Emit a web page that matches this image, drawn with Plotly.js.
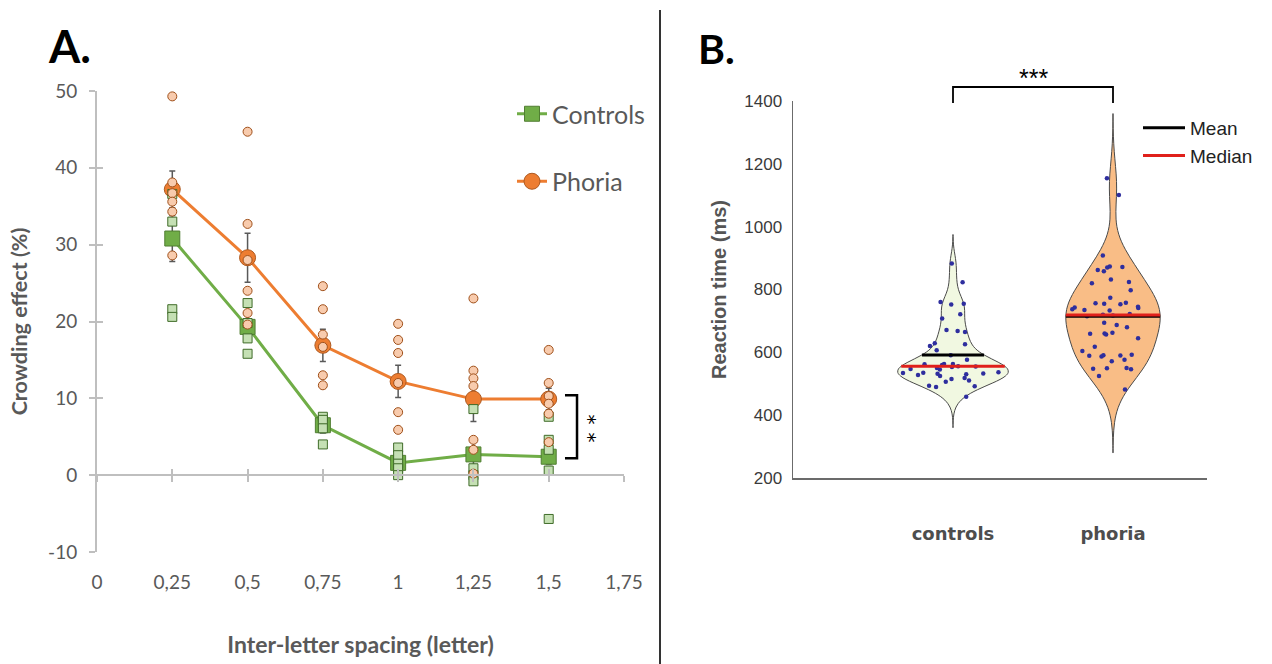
<!DOCTYPE html>
<html>
<head>
<meta charset="utf-8">
<script src="https://cdn.plot.ly/plotly-3.0.1.min.js"></script>
<style>html,body{margin:0;padding:0;background:#fff;}#chart{width:1272px;height:664px;}</style>
</head>
<body>
<div id="chart"></div>
<script>
// ---------- Panel A data ----------
const spacing = [0.25, 0.5, 0.75, 1, 1.25, 1.5];
const spacingTicks = [0, 0.25, 0.5, 0.75, 1, 1.25, 1.5, 1.75];
const spacingLabels = ['0', '0,25', '0,5', '0,75', '1', '1,25', '1,5', '1,75'];
const effectTicks = [-10, 0, 10, 20, 30, 40, 50];
const effectLabels = ['-10', '0', '10', '20', '30', '40', '50'];
const controlsMean = [30.8, 19.3, 6.5, 1.6, 2.7, 2.4];
const controlsErr = [3.0, 1.5, 1.0, 1.0, 1.8, 1.0];
const phoriaMean = [37.2, 28.3, 16.9, 12.2, 9.9, 9.9];
const phoriaErr = [2.4, 3.2, 2.1, 2.1, 2.9, 1.4];
const controlsIndiv = [
  [36.6, 33.0, 21.6, 20.6],
  [22.4, 19.8, 17.8, 15.8],
  [7.6, 7.2, 6.1, 4.0],
  [3.6, 2.6, 1.5, 0.9, 0.0],
  [8.6, 0.9, 0.0, -0.8],
  [7.6, 4.6, 3.3, 0.6, -5.7]
];
const phoriaIndiv = [
  [49.3, 38.1, 36.7, 35.6, 34.3, 28.6],
  [44.7, 32.7, 28.0, 24.0, 21.1, 19.6],
  [24.6, 21.6, 18.3, 16.7, 13.0, 11.7],
  [19.7, 17.6, 15.9, 12.0, 8.2, 5.9],
  [23.0, 13.6, 12.6, 11.6, 4.6, 3.3, 0.2],
  [16.3, 12.0, 10.3, 9.3, 8.0, 4.3]
];

// ---------- Panel B data ----------
const groups = ['controls', 'phoria'];
const rtTicks = [200, 400, 600, 800, 1000, 1200, 1400];
const controlsRT = [883, 823, 760, 755, 752, 721, 708, 671, 668, 665, 629, 626, 620, 607, 591, 576,
  563, 563, 562, 560, 556, 555, 553, 550, 547, 545, 537, 535, 534, 533, 532, 530, 528, 525,
  518, 515, 510, 506, 494, 492, 490, 459];
const phoriaRT = [1154, 1101, 908, 873, 872, 870, 862, 858, 832, 824, 820, 798, 774, 758, 756, 755,
  753, 745, 743, 741, 737, 735, 733, 722, 720, 717, 715, 694, 687, 680, 662, 660, 659, 657, 645,
  618, 604, 592, 591, 590, 589, 587, 576, 572, 550, 549, 548, 546, 525, 482];

// ---------- helpers ----------
function flatX(xs, sets) { const o = []; sets.forEach((s, i) => s.forEach(() => o.push(xs[i]))); return o; }
function flatY(sets) { return [].concat(...sets); }
function mean(a) { return a.reduce((s, v) => s + v, 0) / a.length; }
function median(a) { const s = a.slice().sort((p, q) => p - q); const n = s.length; return n % 2 ? s[(n - 1) / 2] : (s[n / 2 - 1] + s[n / 2]) / 2; }
function kde(data, bw, y) { let s = 0; for (const v of data) { const z = (y - v) / bw; s += Math.exp(-0.5 * z * z); } return s / (data.length * bw * Math.sqrt(2 * Math.PI)); }
function halfWidth(data, bw, span, width, y) {
  let mx = 0;
  for (let i = 0; i <= 300; i++) { const t = span[0] + (span[1] - span[0]) * i / 300; mx = Math.max(mx, kde(data, bw, t)); }
  return width / 2 * kde(data, bw, y) / mx;
}

// ---------- geometry (paper fractions, margins 0) ----------
const W = 1272, H = 664;
const aDomX = [97 / W, 624 / W], aDomY = [1 - 552 / H, 1 - 91 / H];
const aRangeY = [-10, 50];
const zeroPos = aDomY[0] + (0 - aRangeY[0]) / (aRangeY[1] - aRangeY[0]) * (aDomY[1] - aDomY[0]);
const bDomX = [793 / W, 1207 / W], bDomY = [1 - 478 / H, 1 - 101 / H];

const fontA = 'Lato, "Open Sans", sans-serif';
const fontB = '"Liberation Sans", Arial, sans-serif';
const greyA = '#595959';
const axA = '#BFBFBF';

// violin settings
const vio = [
  { data: controlsRT, pos: 0, bw: 33, span: [360, 975], width: 0.69, fill: '#F1F8E1' },
  { data: phoriaRT, pos: 1, bw: 72, span: [280, 1360], width: 0.59, fill: '#F9BD86' }
];

const traces = [];

// dummy traces to materialise overlay axes (cross ticks)
traces.push({ type: 'scatter', x: [], y: [], xaxis: 'x3', yaxis: 'y', showlegend: false, hoverinfo: 'skip' });
traces.push({ type: 'scatter', x: [], y: [], xaxis: 'x4', yaxis: 'y', showlegend: false, hoverinfo: 'skip' });
traces.push({ type: 'scatter', x: [], y: [], xaxis: 'x', yaxis: 'y3', showlegend: false, hoverinfo: 'skip' });

// Panel A means
traces.push({
  type: 'scatter', mode: 'lines+markers', name: 'Controls', legendgroup: 'c',
  x: spacing, y: controlsMean, xaxis: 'x', yaxis: 'y', cliponaxis: false,
  line: { color: '#70AD47', width: 3 },
  marker: { symbol: 'square', size: 15, color: '#70AD47', line: { color: '#507E32', width: 1 } },
  error_y: { type: 'data', array: controlsErr, color: '#595959', thickness: 1.5, width: 3 }
});
traces.push({
  type: 'scatter', mode: 'lines+markers', name: 'Phoria', legendgroup: 'p',
  x: spacing, y: phoriaMean, xaxis: 'x', yaxis: 'y', cliponaxis: false,
  line: { color: '#ED7D31', width: 3 },
  marker: { symbol: 'circle', size: 16, color: '#ED7D31', line: { color: '#AE5A21', width: 1 } },
  error_y: { type: 'data', array: phoriaErr, color: '#595959', thickness: 1.5, width: 3 }
});
// Panel A individual points
traces.push({
  type: 'scatter', mode: 'markers', showlegend: false, cliponaxis: false,
  x: flatX(spacing, controlsIndiv), y: flatY(controlsIndiv), xaxis: 'x', yaxis: 'y',
  marker: { symbol: 'square', size: 9, color: '#C5E0B4', line: { color: '#3F6B28', width: 1 } }
});
traces.push({
  type: 'scatter', mode: 'markers', showlegend: false, cliponaxis: false,
  x: flatX(spacing, phoriaIndiv), y: flatY(phoriaIndiv), xaxis: 'x', yaxis: 'y',
  marker: { symbol: 'circle', size: 9, color: '#F8CBAD', line: { color: '#A0501A', width: 1 } }
});

// Panel B violins
vio.forEach(v => {
  traces.push({
    type: 'violin', x0: v.pos, y: v.data, xaxis: 'x2', yaxis: 'y2',
    width: v.width, bandwidth: v.bw, spanmode: 'manual', span: v.span, scalemode: 'width',
    points: 'all', pointpos: 0, jitter: 0.95,
    marker: { size: 4.5, color: '#2E2E9E' },
    line: { color: '#4A4A4A', width: 1 }, fillcolor: v.fill,
    box: { visible: false }, meanline: { visible: false },
    showlegend: false, hoverinfo: 'y'
  });
});
// mean & median lines (clipped to violin width at that level)
function statLine(fn) {
  const xs = [], ys = [];
  vio.forEach((v, i) => {
    const m = fn(v.data);
    const hw = halfWidth(v.data, v.bw, v.span, v.width, m);
    if (i) { xs.push(null); ys.push(null); }
    xs.push(v.pos - hw, v.pos + hw); ys.push(m, m);
  });
  return { xs, ys };
}
const mL = statLine(mean), mdL = statLine(median);
traces.push({ type: 'scatter', mode: 'lines', name: 'Mean', x: mL.xs, y: mL.ys, xaxis: 'x2', yaxis: 'y2',
  line: { color: '#000000', width: 3 }, legend: 'legend2' });
traces.push({ type: 'scatter', mode: 'lines', name: 'Median', x: mdL.xs, y: mdL.ys, xaxis: 'x2', yaxis: 'y2',
  line: { color: '#E0201B', width: 3 }, legend: 'legend2' });

const layout = {
  width: W, height: H,
  margin: { l: 0, r: 0, t: 0, b: 0 },
  paper_bgcolor: '#fff', plot_bgcolor: 'rgba(0,0,0,0)',
  showlegend: true,
  // Panel A
  xaxis: {
    domain: aDomX, range: [0, 1.75], anchor: 'y', automargin: false,
    showline: false, showgrid: false, zeroline: false,
    tickmode: 'array', tickvals: spacingTicks, ticktext: spacingLabels,
    ticks: 'outside', ticklen: 13, tickcolor: 'rgba(0,0,0,0)',
    tickfont: { family: fontA, size: 19, color: greyA },
    title: { text: 'Inter-letter spacing (letter)', standoff: 45, font: { family: fontA, size: 23, color: greyA, weight: 'bold' } }
  },
  xaxis3: {
    overlaying: 'x', matches: 'x', anchor: 'free', position: zeroPos,
    showline: true, linecolor: axA, linewidth: 2, showgrid: false, zeroline: false,
    tickmode: 'array', tickvals: spacingTicks, ticks: 'outside', ticklen: 6, tickwidth: 2, tickcolor: axA,
    showticklabels: false
  },
  xaxis4: {
    overlaying: 'x', matches: 'x', anchor: 'free', position: zeroPos,
    showline: false, showgrid: false, zeroline: false,
    tickmode: 'array', tickvals: spacingTicks, ticks: 'inside', ticklen: 6, tickwidth: 2, tickcolor: axA,
    showticklabels: false
  },
  yaxis: {
    domain: aDomY, range: aRangeY, anchor: 'x', automargin: false,
    showline: true, linecolor: axA, linewidth: 2, showgrid: false, zeroline: false,
    tickmode: 'array', tickvals: effectTicks, ticktext: effectLabels,
    ticks: 'outside', ticklen: 6, tickwidth: 2, tickcolor: axA, ticklabelstandoff: 8,
    tickfont: { family: fontA, size: 19, color: greyA },
    title: { text: 'Crowding effect (%)', standoff: 15, font: { family: fontA, size: 21.5, color: greyA, weight: 'bold' } }
  },
  yaxis3: {
    overlaying: 'y', matches: 'y', anchor: 'x', side: 'left',
    showline: false, showgrid: false, zeroline: false,
    tickmode: 'array', tickvals: effectTicks, ticks: 'inside', ticklen: 6, tickwidth: 2, tickcolor: axA, showticklabels: false
  },
  // Panel B
  xaxis2: {
    domain: bDomX, range: [-1, 1.5875], anchor: 'y2', type: 'linear', automargin: false,
    showline: true, linecolor: '#6B6B6B', linewidth: 1.5, showgrid: false, zeroline: false,
    tickmode: 'array', tickvals: [0, 1], ticktext: groups,
    ticks: 'outside', ticklen: 39, tickcolor: 'rgba(0,0,0,0)',
    tickfont: { family: '"DejaVu Sans", Verdana, sans-serif', size: 18, color: '#4D4D4D', weight: 'bold' }
  },
  yaxis2: {
    domain: bDomY, range: [200, 1400], anchor: 'x2', automargin: false,
    showline: true, linecolor: '#6B6B6B', linewidth: 1.5, showgrid: false, zeroline: false,
    tickmode: 'array', tickvals: rtTicks, ticks: 'outside', ticklen: 6, tickcolor: 'rgba(0,0,0,0)',
    tickfont: { family: fontB, size: 17, color: '#3A3A3A' },
    title: { text: 'Reaction time (ms)', standoff: 12, font: { family: fontB, size: 20, color: '#555555', weight: 'bold' } }
  },
  legend: {
    x: 512 / W, y: 1 - 91 / H, xanchor: 'left', yanchor: 'top',
    bgcolor: 'rgba(0,0,0,0)', tracegroupgap: 32, itemclick: false,
    font: { family: fontA, size: 25, color: greyA }
  },
  legend2: {
    x: 1138 / W, y: 1 - 109 / H, xanchor: 'left', yanchor: 'top',
    bgcolor: 'rgba(255,255,255,0.9)', tracegroupgap: 0, itemwidth: 42,
    font: { family: fontB, size: 19, color: '#222222' }
  },
  shapes: [
    // separator between panels
    { type: 'line', xref: 'paper', yref: 'paper', x0: 660 / W, x1: 660 / W, y0: 0, y1: 1 - 10 / H,
      line: { color: '#333333', width: 2 } },
    // significance bracket panel A
    { type: 'path', xref: 'x', yref: 'y', path: 'M 1.554 10.4 L 1.594 10.4 L 1.594 2.2 L 1.554 2.2',
      line: { color: '#000000', width: 2.5 } },
    // significance bracket panel B
    { type: 'path', xref: 'x2', yref: 'paper', path: `M 0 ${1 - 103 / H} L 0 ${1 - 87 / H} L 1 ${1 - 87 / H} L 1 ${1 - 103 / H}`,
      line: { color: '#000000', width: 1.8 } }
  ],
  annotations: [
    { xref: 'paper', yref: 'paper', x: 46 / W, y: 1 - 46 / H, xanchor: 'left', yanchor: 'middle', showarrow: false,
      text: '<b>A.</b>', font: { family: fontA, size: 45, color: '#000' } },
    { xref: 'paper', yref: 'paper', x: 696 / W, y: 1 - 48 / H, xanchor: 'left', yanchor: 'middle', showarrow: false,
      text: '<b>B.</b>', font: { family: fontA, size: 41, color: '#000' } },
    { xref: 'x', yref: 'y', x: 1.632, y: 6.0, showarrow: false, text: '*\u2009\u2009*', textangle: 90,
      font: { family: '"DejaVu Sans", sans-serif', size: 20, color: '#000' } },
    { xref: 'x2', yref: 'paper', x: 0.5, y: 1 - 62 / H, showarrow: false, text: '***',
      font: { family: fontB, size: 25, color: '#000' } }
  ]
};

Plotly.newPlot('chart', traces, layout, { displayModeBar: false, staticPlot: true });
</script>
</body>
</html>
